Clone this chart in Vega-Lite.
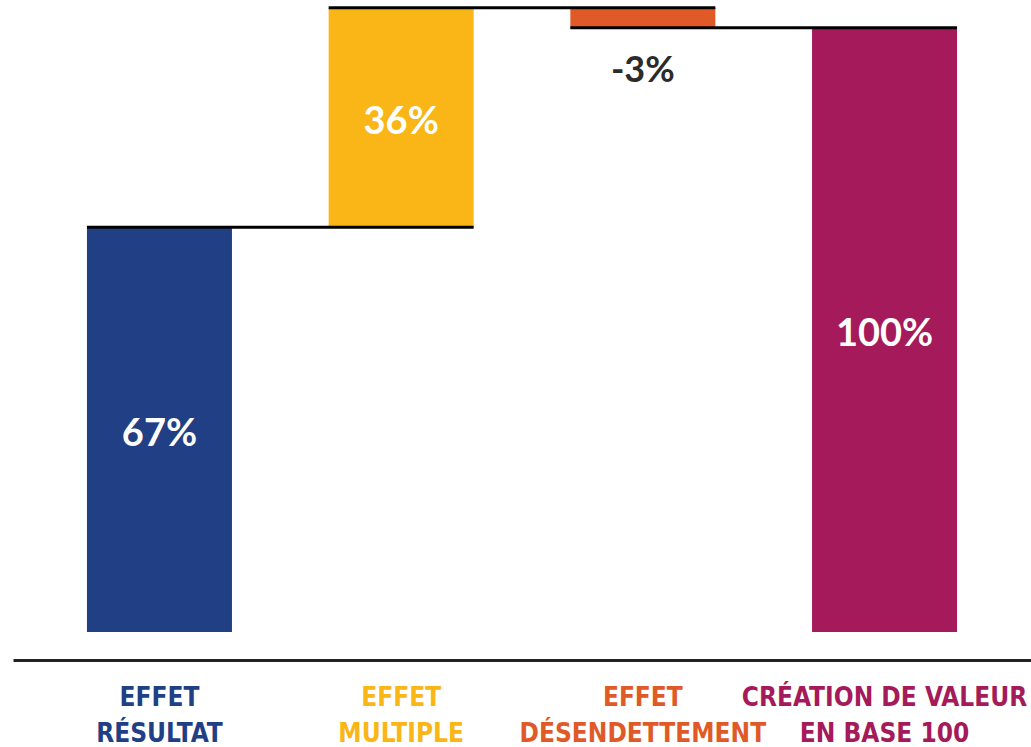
{
  "$schema": "https://vega.github.io/schema/vega-lite/v6.json",
  "width": 1018,
  "height": 660,
  "autosize": "none",
  "padding": {"left": 13, "top": 0, "right": 0, "bottom": 87},
  "background": "white",
  "config": {"view": {"stroke": null}},
  "datasets": {
    "bars": [
      {"cat": "EFFET|RÉSULTAT", "start": 0, "end": 67, "label": "67%", "kind": "pos"},
      {"cat": "EFFET|MULTIPLE", "start": 67, "end": 103.3, "label": "36%", "kind": "pos"},
      {"cat": "EFFET|DÉSENDETTEMENT", "start": 103.3, "end": 100, "label": "-3%", "kind": "neg"},
      {"cat": "CRÉATION DE VALEUR|EN BASE 100", "start": 0, "end": 100, "label": "100%", "kind": "pos"}
    ],
    "links": [
      {"from": "EFFET|RÉSULTAT", "to": "EFFET|MULTIPLE", "v": 67},
      {"from": "EFFET|MULTIPLE", "to": "EFFET|DÉSENDETTEMENT", "v": 103.3},
      {"from": "EFFET|DÉSENDETTEMENT", "to": "CRÉATION DE VALEUR|EN BASE 100", "v": 100}
    ]
  },
  "layer": [
    {
      "data": {"name": "bars"},
      "mark": {"type": "bar"},
      "encoding": {
        "x": {
          "field": "cat", "type": "nominal", "sort": null,
          "scale": {"paddingInner": 0.4, "paddingOuter": 0.306},
          "axis": {
            "title": null, "labelAngle": 0, "ticks": false,
            "domainColor": "#222222", "domainWidth": 3,
            "labelExpr": "split(datum.label, '|')",
            "labelFont": "DejaVu Sans Condensed",
            "labelFontWeight": "bold", "labelFontSize": 26, "labelLineHeight": 36,
            "labelBaseline": "top", "labelPadding": 24, "labelLimit": 500,
            "labelOverlap": false, "labelFlush": false,
            "labelColor": {
              "condition": [
                {"test": "datum.value == 'EFFET|RÉSULTAT'", "value": "#213F85"},
                {"test": "datum.value == 'EFFET|MULTIPLE'", "value": "#F9B616"},
                {"test": "datum.value == 'EFFET|DÉSENDETTEMENT'", "value": "#E05A28"}
              ],
              "value": "#A51A5A"
            }
          }
        },
        "y": {
          "field": "start", "type": "quantitative",
          "scale": {"domain": [-4.64, 104.6], "nice": false, "zero": false},
          "axis": null
        },
        "y2": {"field": "end"},
        "color": {
          "field": "cat", "type": "nominal", "legend": null,
          "scale": {
            "domain": ["EFFET|RÉSULTAT", "EFFET|MULTIPLE", "EFFET|DÉSENDETTEMENT", "CRÉATION DE VALEUR|EN BASE 100"],
            "range": ["#213F85", "#F9B616", "#E05A28", "#A51A5A"]
          }
        }
      }
    },
    {
      "data": {"name": "links"},
      "mark": {"type": "rule", "color": "#000000", "strokeWidth": 3},
      "encoding": {
        "x": {"field": "from", "type": "nominal", "sort": null, "bandPosition": 0},
        "x2": {"field": "to", "bandPosition": 1},
        "y": {"field": "v", "type": "quantitative"}
      }
    },
    {
      "data": {"name": "bars"},
      "transform": [
        {"filter": "datum.kind == 'pos'"},
        {"calculate": "(datum.start + datum.end) / 2", "as": "mid"}
      ],
      "mark": {"type": "text", "font": "Lato", "fontWeight": "bold", "fontSize": 38, "color": "white", "baseline": "middle", "dy": 5},
      "encoding": {
        "x": {"field": "cat", "type": "nominal", "sort": null},
        "y": {"field": "mid", "type": "quantitative"},
        "text": {"field": "label"}
      }
    },
    {
      "data": {"name": "bars"},
      "transform": [{"filter": "datum.kind == 'neg'"}],
      "mark": {"type": "text", "font": "Lato", "fontWeight": "bold", "fontSize": 36, "color": "#2B2B2B", "baseline": "middle", "dy": 43},
      "encoding": {
        "x": {"field": "cat", "type": "nominal", "sort": null},
        "y": {"field": "end", "type": "quantitative"},
        "text": {"field": "label"}
      }
    }
  ]
}
